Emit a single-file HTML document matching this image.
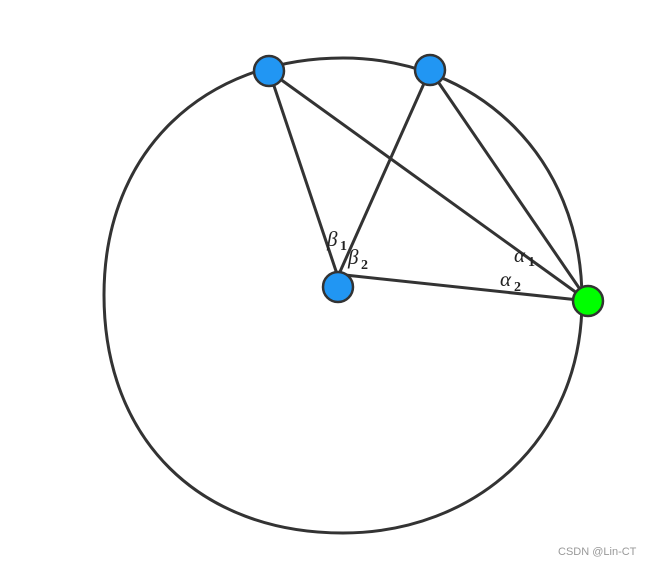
<!DOCTYPE html>
<html><head><meta charset="utf-8"><style>
html,body{margin:0;padding:0;background:#fff;}
svg{display:block;}
</style></head><body>
<svg width="650" height="566" viewBox="0 0 650 566" xmlns="http://www.w3.org/2000/svg">
<rect width="650" height="566" fill="#fff"/>
<path d="M343,58 C475,58 582,155 582,300 C582,440 475,533 343,533 C200,533 104,440 104,295 C104,150 205,58 343,58 Z" fill="none" stroke="#333" stroke-width="3"/>
<g stroke="#333" stroke-width="3" fill="none">
<line x1="269" y1="71" x2="337" y2="274"/>
<line x1="269" y1="71" x2="588" y2="301"/>
<line x1="430" y1="70" x2="339" y2="274"/>
<line x1="430" y1="70" x2="588" y2="301"/>
<line x1="345" y1="275" x2="588" y2="301"/>
</g>
<g stroke="#333" stroke-width="2.5">
<circle cx="269" cy="71" r="15" fill="#2196f3"/>
<circle cx="430" cy="70" r="15" fill="#2196f3"/>
<circle cx="338" cy="287" r="15" fill="#2196f3"/>
<circle cx="588" cy="301" r="15" fill="#00ff00"/>
</g>
<g font-family="Liberation Serif, serif" fill="#222">
<text x="327" y="246" font-size="21" font-style="italic">β</text><text x="340" y="250" font-size="14" font-weight="bold">1</text>
<text x="348" y="264" font-size="21" font-style="italic">β</text><text x="361" y="269" font-size="14" font-weight="bold">2</text>
<text x="514" y="262" font-size="21" font-style="italic">α</text><text x="528" y="266" font-size="14" font-weight="bold">1</text>
<text x="500" y="286" font-size="21" font-style="italic">α</text><text x="514" y="291" font-size="14" font-weight="bold">2</text>
</g>
<text x="558" y="555" font-family="Liberation Sans, sans-serif" font-size="11" fill="#999">CSDN @Lin-CT</text>
</svg>
</body></html>
